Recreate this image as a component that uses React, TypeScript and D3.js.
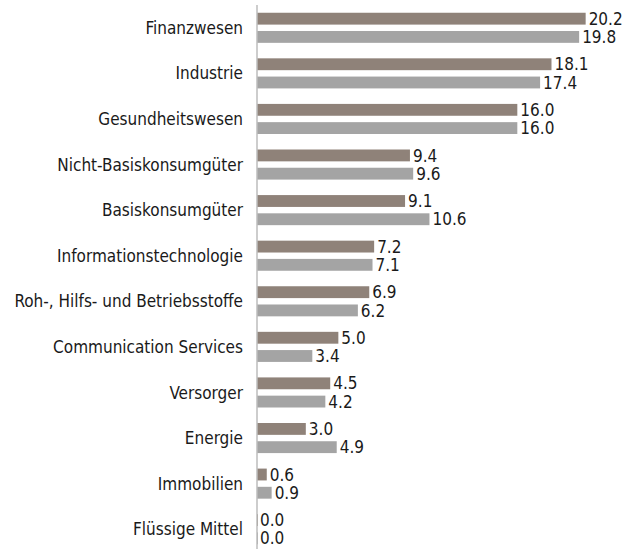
import React, { useEffect, useRef } from "react";
import * as d3 from "d3";

const sectors = [
  "Finanzwesen",
  "Industrie",
  "Gesundheitswesen",
  "Nicht-Basiskonsumgüter",
  "Basiskonsumgüter",
  "Informationstechnologie",
  "Roh-, Hilfs- und Betriebsstoffe",
  "Communication Services",
  "Versorger",
  "Energie",
  "Immobilien",
  "Flüssige Mittel",
];
const fundValues = [20.2, 18.1, 16.0, 9.4, 9.1, 7.2, 6.9, 5.0, 4.5, 3.0, 0.6, 0.0];
const benchValues = [19.8, 17.4, 16.0, 9.6, 10.6, 7.1, 6.2, 3.4, 4.2, 4.9, 0.9, 0.0];
const seriesKeys = ["fund", "bench"];
const colors = ["#8f8279", "#a4a4a4"];

const FONT = "'Liberation Sans Narrow', 'Arial Narrow', 'DejaVu Sans Condensed', sans-serif";

export default function App() {
  const ref = useRef<SVGSVGElement>(null);

  useEffect(() => {
    const svg = d3.select(ref.current);
    svg.selectAll("*").remove();

    const width = 638;
    const height = 549;
    const axisX = 257;

    const rows = sectors.map((s, i) => ({ sector: s, values: [fundValues[i], benchValues[i]] }));

    const y = d3.scaleBand().domain(sectors).range([5, 552]).paddingInner(0.34).paddingOuter(0.17);
    const sub = d3.scaleBand().domain(seriesKeys).range([0, y.bandwidth()]).paddingInner(0.35);
    const x = d3.scaleLinear().domain([0, 22]).range([axisX, axisX + 22 * 16.27]);

    const g = svg.append("g");

    const groups = g
      .selectAll("g.row")
      .data(rows)
      .join("g")
      .attr("class", "row")
      .attr("transform", (d) => `translate(0,${y(d.sector)})`);

    groups
      .selectAll("rect")
      .data((d) => d.values.map((v, k) => ({ v, k })))
      .join("rect")
      .attr("x", x(0))
      .attr("y", (d) => sub(seriesKeys[d.k])!)
      .attr("width", (d) => Math.max(x(d.v) - x(0), d.v === 0 ? 1 : 0))
      .attr("height", sub.bandwidth())
      .attr("fill", (d) => colors[d.k]);

    groups
      .selectAll("text.val")
      .data((d) => d.values.map((v, k) => ({ v, k })))
      .join("text")
      .attr("class", "val")
      .attr("x", (d) => x(d.v) + 3)
      .attr("y", (d) => sub(seriesKeys[d.k])! + sub.bandwidth() / 2)
      .attr("dy", "0.36em")
      .attr("font-family", FONT)
      .attr("font-size", 17)
      .attr("fill", "#1a1a1a")
      .text((d) => d3.format(".1f")(d.v));

    groups
      .append("text")
      .attr("x", axisX - 14)
      .attr("y", y.bandwidth() / 2)
      .attr("dy", "0.36em")
      .attr("text-anchor", "end")
      .attr("font-family", FONT)
      .attr("font-size", 17)
      .attr("fill", "#1a1a1a")
      .text((d) => d.sector);

    svg
      .append("line")
      .attr("x1", axisX)
      .attr("x2", axisX)
      .attr("y1", 5)
      .attr("y2", height)
      .attr("stroke", "#bdbdbd")
      .attr("stroke-width", 1.5);
  }, []);

  return (
    <svg
      ref={ref}
      width={638}
      height={549}
      style={{ position: "absolute", left: 0, top: 0, background: "#fff" }}
    ></svg>
  );
}
